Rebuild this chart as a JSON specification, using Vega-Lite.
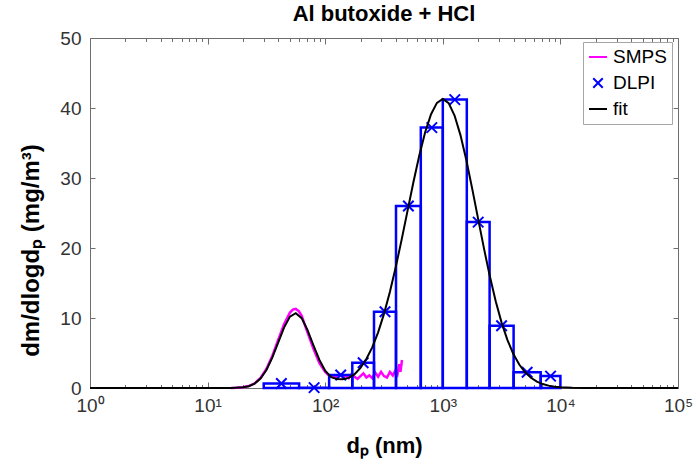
{
  "$schema": "https://vega.github.io/schema/vega-lite/v6.json",
  "width": 588,
  "height": 350,
  "autosize": {"type": "none"},
  "padding": {"left": 90, "top": 38, "right": 21, "bottom": 80},
  "background": "white",
  "title": {"text": "Al butoxide + HCl", "fontSize": 22, "font": "Liberation Sans", "fontWeight": "bold", "color": "#000000", "offset": 3, "anchor": "middle"},
  "datasets": {
    "dlpi": [
      {"lo": 30, "hi": 60, "d": 42.4, "v": 0.65},
      {"lo": 60, "hi": 108, "d": 80.5, "v": 0.05},
      {"lo": 108, "hi": 170, "d": 135.5, "v": 1.85},
      {"lo": 170, "hi": 260, "d": 210.2, "v": 3.6},
      {"lo": 260, "hi": 400, "d": 322.5, "v": 10.9},
      {"lo": 400, "hi": 650, "d": 509.9, "v": 26.0},
      {"lo": 650, "hi": 1000, "d": 806.2, "v": 37.2},
      {"lo": 1000, "hi": 1600, "d": 1264.9, "v": 41.2},
      {"lo": 1600, "hi": 2500, "d": 2000, "v": 23.7},
      {"lo": 2500, "hi": 4000, "d": 3162, "v": 8.9},
      {"lo": 4000, "hi": 6800, "d": 5215, "v": 2.25},
      {"lo": 6800, "hi": 10000, "d": 8246, "v": 1.7}
    ],
    "smps": [
      {"d": 15.85, "v": 0.01}, {"d": 17.78, "v": 0.04}, {"d": 19.95, "v": 0.1}, {"d": 22.39, "v": 0.28},
      {"d": 25.12, "v": 0.67}, {"d": 28.18, "v": 1.43}, {"d": 31.62, "v": 2.71}, {"d": 35.48, "v": 4.57},
      {"d": 39.81, "v": 6.85}, {"d": 44.67, "v": 9.11}, {"d": 50.12, "v": 10.77}, {"d": 53.09, "v": 11.2},
      {"d": 56.23, "v": 11.3}, {"d": 59.57, "v": 11.0}, {"d": 63.1, "v": 10.3}, {"d": 70.79, "v": 7.9},
      {"d": 79.43, "v": 5.6}, {"d": 89.13, "v": 3.6}, {"d": 100, "v": 2.3}, {"d": 105.9, "v": 1.9},
      {"d": 112.2, "v": 1.7}, {"d": 118.9, "v": 1.5}, {"d": 125.9, "v": 1.6}, {"d": 133.4, "v": 1.9},
      {"d": 141.3, "v": 1.5}, {"d": 149.6, "v": 1.8}, {"d": 158.5, "v": 1.4}, {"d": 167.9, "v": 2.0},
      {"d": 177.8, "v": 1.6}, {"d": 188.4, "v": 1.3}, {"d": 199.5, "v": 1.7}, {"d": 211.4, "v": 2.1},
      {"d": 223.9, "v": 1.5}, {"d": 237.1, "v": 1.8}, {"d": 251.2, "v": 1.4}, {"d": 266.1, "v": 2.2},
      {"d": 281.8, "v": 1.6}, {"d": 298.5, "v": 2.3}, {"d": 316.2, "v": 1.7}, {"d": 335.0, "v": 1.5},
      {"d": 354.8, "v": 2.3}, {"d": 375.8, "v": 1.8}, {"d": 398.1, "v": 2.6}, {"d": 412.1, "v": 2.0},
      {"d": 426.6, "v": 3.4}, {"d": 436.5, "v": 2.3}, {"d": 449.8, "v": 4.0}
    ],
    "fit": [
      {"d": 1, "v": 0}, {"d": 3.162, "v": 0}, {"d": 10, "v": 0}, {"d": 12.59, "v": 0.001},
      {"d": 15.85, "v": 0.009}, {"d": 19.95, "v": 0.096}, {"d": 22.39, "v": 0.262}, {"d": 25.12, "v": 0.631},
      {"d": 28.18, "v": 1.351}, {"d": 31.62, "v": 2.566}, {"d": 35.48, "v": 4.33}, {"d": 39.81, "v": 6.49},
      {"d": 44.67, "v": 8.63}, {"d": 50.12, "v": 10.2}, {"d": 56.23, "v": 10.69}, {"d": 63.1, "v": 9.98},
      {"d": 70.79, "v": 8.26}, {"d": 79.43, "v": 6.1}, {"d": 89.13, "v": 4.04}, {"d": 100, "v": 2.46},
      {"d": 112.2, "v": 1.55}, {"d": 125.9, "v": 1.3}, {"d": 141.3, "v": 1.25}, {"d": 158.5, "v": 1.45},
      {"d": 177.8, "v": 1.98}, {"d": 199.5, "v": 2.87}, {"d": 223.9, "v": 4.14}, {"d": 251.2, "v": 5.81},
      {"d": 281.8, "v": 7.95}, {"d": 316.2, "v": 10.59}, {"d": 354.8, "v": 13.71}, {"d": 398.1, "v": 17.28},
      {"d": 446.7, "v": 21.2}, {"d": 501.2, "v": 25.3}, {"d": 562.3, "v": 29.39}, {"d": 631, "v": 33.22},
      {"d": 707.9, "v": 36.54}, {"d": 794.3, "v": 39.11}, {"d": 891.3, "v": 40.74}, {"d": 1000, "v": 41.3},
      {"d": 1122, "v": 40.69}, {"d": 1259, "v": 38.92}, {"d": 1413, "v": 36.13}, {"d": 1585, "v": 32.56},
      {"d": 1778, "v": 28.48}, {"d": 1995, "v": 24.19}, {"d": 2239, "v": 19.94}, {"d": 2512, "v": 15.95},
      {"d": 2818, "v": 12.39}, {"d": 3162, "v": 9.34}, {"d": 3548, "v": 6.84}, {"d": 3981, "v": 4.86},
      {"d": 4467, "v": 3.35}, {"d": 5012, "v": 2.24}, {"d": 5623, "v": 1.46}, {"d": 6310, "v": 0.92},
      {"d": 7079, "v": 0.56}, {"d": 7943, "v": 0.34}, {"d": 8913, "v": 0.19}, {"d": 10000, "v": 0.11},
      {"d": 12589, "v": 0.03}, {"d": 15849, "v": 0.01}, {"d": 19953, "v": 0}, {"d": 31623, "v": 0},
      {"d": 100000, "v": 0}
    ]
  },
  "layer": [
    {
      "data": {"name": "smps"},
      "mark": {"type": "line", "strokeWidth": 2.5},
      "encoding": {
        "x": {"field": "d", "type": "quantitative",
          "scale": {"type": "log", "domain": [1, 100000], "nice": false},
          "axis": {"orient": "top", "labels": false, "title": null,
            "tickSize": {"condition": {"test": "indexof([1,10,100,1000,10000,100000], datum.value) >= 0", "value": -6}, "value": -3.5},
            "values": [1,2,3,4,5,6,7,8,9,10,20,30,40,50,60,70,80,90,100,200,300,400,500,600,700,800,900,1000,2000,3000,4000,5000,6000,7000,8000,9000,10000,20000,30000,40000,50000,60000,70000,80000,90000,100000]}},
        "y": {"field": "v", "type": "quantitative",
          "scale": {"domain": [0, 50], "nice": false},
          "axis": {"orient": "right", "labels": false, "title": null, "values": [0,10,20,30,40,50]}},
        "color": {"datum": "SMPS", "type": "nominal",
          "scale": {"domain": ["SMPS", "DLPI", "fit"], "range": ["#ff00ff", "#0000ff", "#000000"]},
          "legend": {
            "orient": "none", "legendX": 493, "legendY": 4, "title": null,
            "strokeColor": "#a6a6a6", "fillColor": "#ffffff", "padding": 5,
            "labelFont": "Liberation Sans", "labelFontSize": 19, "labelColor": "#000000",
            "labelOffset": 5, "rowPadding": 6, "symbolSize": 324, "symbolType": "stroke", "symbolStrokeWidth": 2,
            "encode": {"symbols": {"update": {
              "shape": {"signal": "datum.value === 'DLPI' ? 'M-1,-1L1,1M-1,1L1,-1' : 'stroke'"},
              "size": {"signal": "datum.value === 'DLPI' ? 90 : 324"},
              "stroke": {"signal": "datum.value === 'SMPS' ? '#ff00ff' : datum.value === 'DLPI' ? '#0000ff' : '#000000'"},
              "fill": {"value": "transparent"},
              "strokeWidth": {"value": 2},
              "opacity": {"value": 1}
            }}}
          }}
      }
    },
    {
      "data": {"name": "dlpi"},
      "mark": {"type": "rect", "fillOpacity": 0, "stroke": "#0000ff", "strokeWidth": 2.5},
      "encoding": {
        "x": {"field": "lo", "type": "quantitative",
          "axis": {"orient": "bottom", "title": "dₚ (nm)", "titlePadding": 18, "titleFontSize": 22,
            "tickSize": {"condition": {"test": "indexof([1,10,100,1000,10000,100000], datum.value) >= 0", "value": -6}, "value": -3.5},
            "values": [1,2,3,4,5,6,7,8,9,10,20,30,40,50,60,70,80,90,100,200,300,400,500,600,700,800,900,1000,2000,3000,4000,5000,6000,7000,8000,9000,10000,20000,30000,40000,50000,60000,70000,80000,90000,100000],
            "labelExpr": "datum.value == 1 ? '10⁰' : datum.value == 10 ? '10¹' : datum.value == 100 ? '10²' : datum.value == 1000 ? '10³' : datum.value == 10000 ? '10⁴' : datum.value == 100000 ? '10⁵' : ''",
            "labelFlush": false, "labelOverlap": false, "labelPadding": 14}},
        "x2": {"field": "hi"},
        "y": {"field": "v", "type": "quantitative",
          "axis": {"orient": "left", "title": "dm/dlogdₚ (mg/m³)", "titlePadding": 16, "titleFontSize": 24, "titleY": 212,
            "values": [0,10,20,30,40,50], "labelPadding": 14}},
        "y2": {"datum": 0}
      }
    },
    {
      "data": {"name": "dlpi"},
      "mark": {"type": "point", "shape": "M-1,-1L1,1M-1,1L1,-1", "filled": false, "size": 110, "strokeWidth": 2, "opacity": 1},
      "encoding": {
        "x": {"field": "d", "type": "quantitative", "axis": null},
        "y": {"field": "v", "type": "quantitative", "axis": null},
        "color": {"datum": "DLPI", "type": "nominal"}
      }
    },
    {
      "data": {"name": "fit"},
      "mark": {"type": "line", "strokeWidth": 2},
      "encoding": {
        "x": {"field": "d", "type": "quantitative", "axis": null},
        "y": {"field": "v", "type": "quantitative", "axis": null},
        "color": {"datum": "fit", "type": "nominal"}
      }
    }
  ],
  "resolve": {"axis": {"x": "independent", "y": "independent"}},
  "config": {
    "font": "Liberation Sans",
    "view": {"stroke": "#6e6e6e", "strokeWidth": 1},
    "axis": {
      "domain": false, "grid": false,
      "tickColor": "#6e6e6e", "tickSize": -5, "tickWidth": 1,
      "labelColor": "#333333", "labelFont": "Liberation Sans", "labelFontSize": 19,
      "titleFont": "Liberation Sans", "titleFontSize": 21, "titleFontWeight": "bold", "titleColor": "#000000"
    }
  }
}
